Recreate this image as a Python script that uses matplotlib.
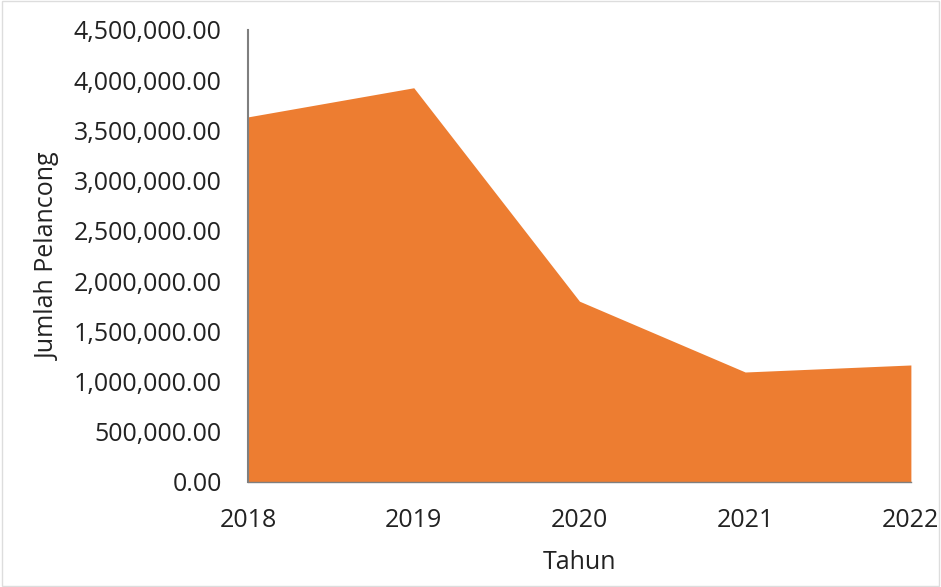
import matplotlib.pyplot as plt
from matplotlib.ticker import FuncFormatter

tahun = [2018, 2019, 2020, 2021, 2022]
pelancong = [3635000, 3925000, 1800000, 1095000, 1165000]
y_ticks = [0, 500000, 1000000, 1500000, 2000000, 2500000, 3000000, 3500000, 4000000, 4500000]

plt.rcParams['font.family'] = ['Open Sans', 'DejaVu Sans']

fig = plt.figure(figsize=(9.41, 5.87), dpi=100)
ax = fig.add_axes([0.2636, 0.1789, 0.968 - 0.2636, 0.9489 - 0.1789])

ax.fill_between(tahun, pelancong, 0, color='#ED7D31', linewidth=0)

ax.set_xlim(2018, 2022)
ax.set_ylim(0, 4500000)
ax.set_xticks(tahun)
ax.set_yticks(y_ticks)
ax.yaxis.set_major_formatter(FuncFormatter(lambda v, p: f"{v:,.2f}"))

for s in ['top', 'right']:
    ax.spines[s].set_visible(False)
ax.spines['left'].set_color('#7f7f7f')
ax.spines['left'].set_linewidth(1.5)
ax.spines['bottom'].set_color('#7f7f7f')
ax.spines['bottom'].set_linewidth(1.0)

ax.tick_params(axis='both', length=0, labelsize=18, colors='#222222')
ax.tick_params(axis='y', pad=19)
ax.tick_params(axis='x', pad=19)

ax.set_xlabel('Tahun', fontsize=18, color='#222222', labelpad=12)
ax.set_ylabel('Jumlah Pelancong', fontsize=18, color='#222222', labelpad=9)

fig.patches.append(plt.Rectangle((0.002, 0.002), 0.996, 0.996, transform=fig.transFigure,
                                 fill=False, edgecolor='#dddddd', linewidth=1))

fig.savefig('out.png', dpi=100)
